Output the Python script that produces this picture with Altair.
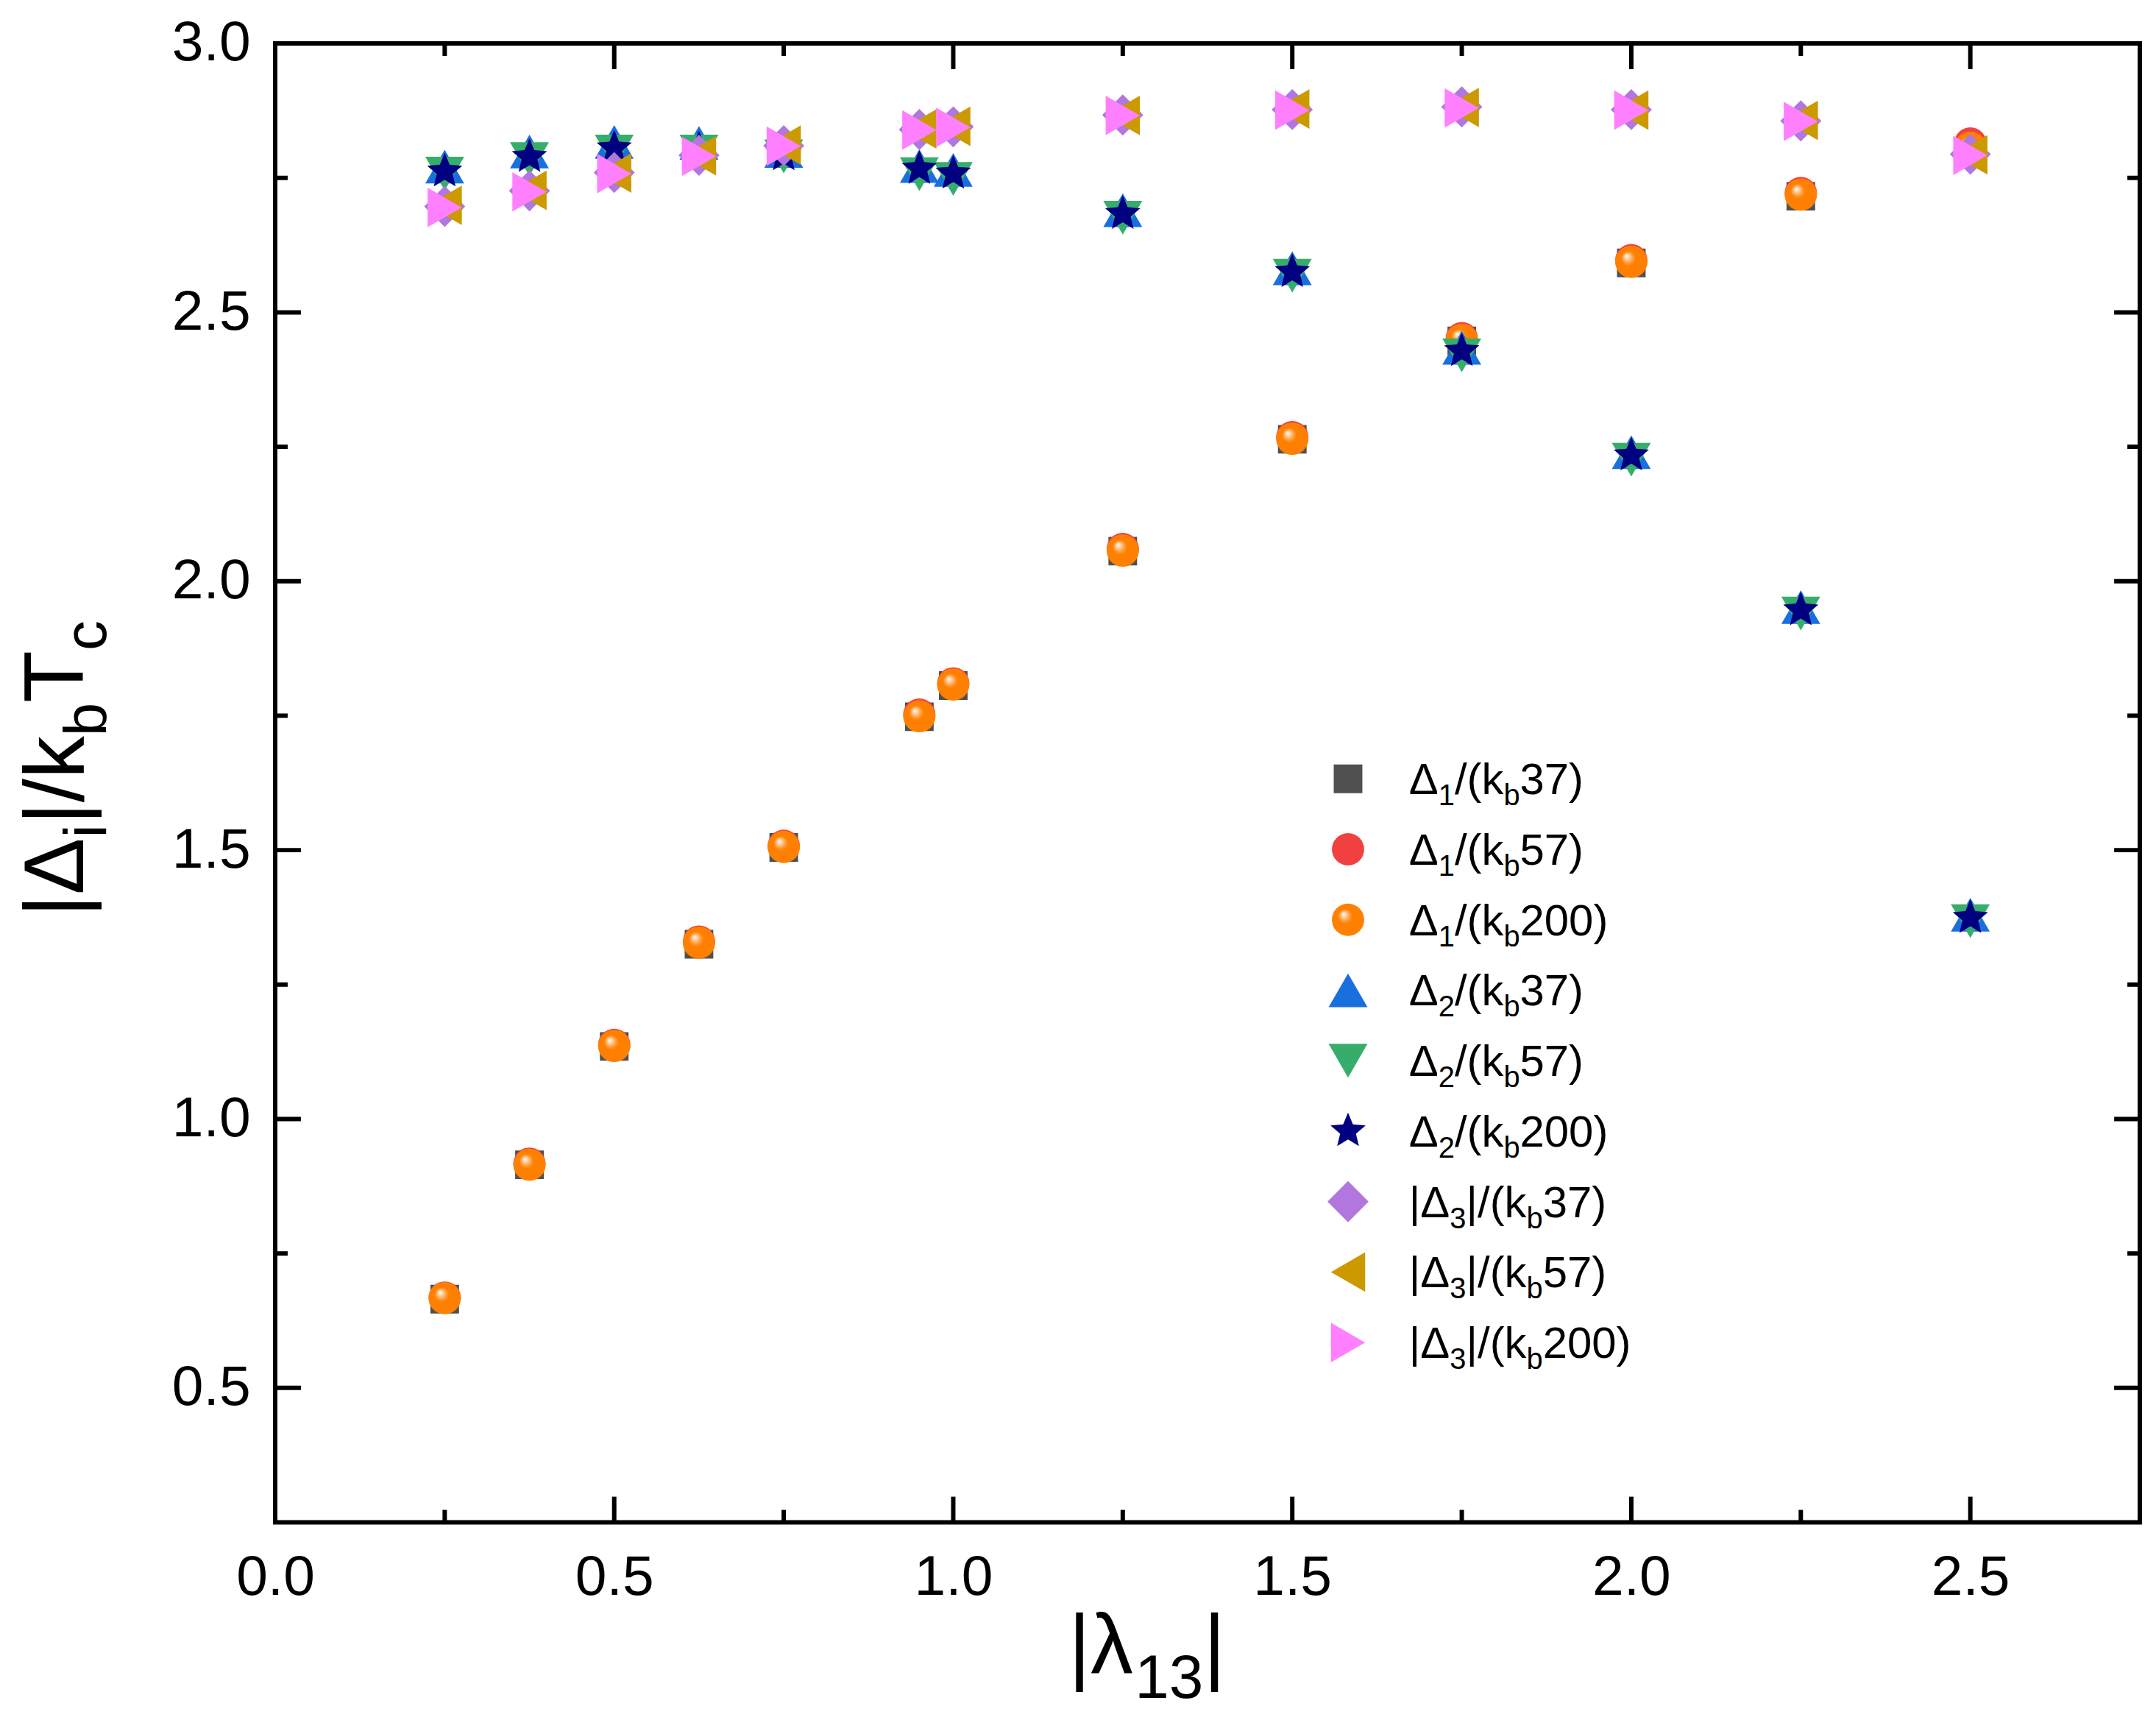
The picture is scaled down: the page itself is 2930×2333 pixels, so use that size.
import altair as alt
import pandas as pd

FONT = "Liberation Sans"

# |lambda_13| values
lam = [0.25, 0.375, 0.5, 0.625, 0.75, 0.95, 1.0, 1.25, 1.5, 1.75, 2.0, 2.25, 2.5]

d1_37 = [0.665, 0.915, 1.135, 1.325, 1.505, 1.748, 1.806, 2.056, 2.264, 2.447, 2.592, 2.716, 2.800]
d1_57 = [0.668, 0.917, 1.138, 1.330, 1.508, 1.752, 1.810, 2.060, 2.268, 2.452, 2.597, 2.722, 2.814]
d1_200 = [0.667, 0.915, 1.136, 1.328, 1.506, 1.749, 1.808, 2.057, 2.265, 2.449, 2.594, 2.719, 2.806]

d2_37 = [2.771, 2.799, 2.817, 2.815, 2.800, 2.772, 2.765, 2.690, 2.582, 2.434, 2.240, 1.952, 1.380]
d2_57 = [2.758, 2.785, 2.799, 2.799, 2.790, 2.757, 2.748, 2.676, 2.568, 2.420, 2.226, 1.940, 1.368]
d2_200 = [2.762, 2.789, 2.805, 2.803, 2.792, 2.767, 2.758, 2.683, 2.575, 2.428, 2.234, 1.946, 1.374]

d3_37 = [2.697, 2.726, 2.760, 2.792, 2.810, 2.840, 2.845, 2.867, 2.877, 2.882, 2.877, 2.856, 2.794]
d3_57 = [2.699, 2.727, 2.759, 2.791, 2.811, 2.841, 2.846, 2.866, 2.878, 2.881, 2.876, 2.857, 2.793]
d3_200 = [2.695, 2.724, 2.758, 2.790, 2.809, 2.839, 2.844, 2.866, 2.876, 2.880, 2.876, 2.855, 2.792]

x_labels = [0.0, 0.5, 1.0, 1.5, 2.0, 2.5]
x_major = [0.5, 1.0, 1.5, 2.0, 2.5]
x_minor = [0.25, 0.75, 1.25, 1.75, 2.25]
y_labels = [0.5, 1.0, 1.5, 2.0, 2.5, 3.0]
y_major = [0.5, 1.0, 1.5, 2.0, 2.5]
y_minor = [0.75, 1.25, 1.75, 2.25, 2.75]

X0, X1 = 0.0, 2.75
Y0, Y1 = 0.25, 3.0
W, H = 2541, 2015

STAR = ("M0,-1L0.2645,-0.364L0.951,-0.309L0.428,0.139L0.588,0.809L0,0.45"
        "L-0.588,0.809L-0.428,0.139L-0.951,-0.309L-0.2645,-0.364Z")

SPHERE = {
    "gradient": "radial", "x1": 0.35, "y1": 0.32, "r1": 0.0,
    "x2": 0.5, "y2": 0.5, "r2": 0.55,
    "stops": [
        {"offset": 0.0, "color": "#FFFFFF"},
        {"offset": 0.12, "color": "#FFD6AD"},
        {"offset": 0.3, "color": "#FF9B38"},
        {"offset": 0.42, "color": "#FF8000"},
        {"offset": 1.0, "color": "#FF8000"},
    ],
}

# label, values, shape, fill, size
series = [
    ("Δ_1/(k_b37)", d1_37, "square", "#505050", 1521),
    ("Δ_1/(k_b57)", d1_57, "circle", "#F14040", 1936),
    ("Δ_1/(k_b200)", d1_200, "circle", SPHERE, 1936),
    ("Δ_2/(k_b37)", d2_37, "triangle-up", "#1A6FDF", 2809),
    ("Δ_2/(k_b57)", d2_57, "triangle-down", "#37AD6B", 2809),
    ("Δ_2/(k_b200)", d2_200, STAR, "#000080", 2540),
    ("|Δ_3|/(k_b37)", d3_37, "diamond", "#B177DE", 3136),
    ("|Δ_3|/(k_b57)", d3_57, "triangle-left", "#CC9900", 2900),
    ("|Δ_3|/(k_b200)", d3_200, "triangle-right", "#FF80FF", 2900),
]

EM = {"|": 0.26, "Δ": 0.668, "λ": 0.52, "/": 0.278, "(": 0.333, ")": 0.333,
      "k": 0.5, "b": 0.556, "i": 0.222, "T": 0.611, "c": 0.5}


def px_x(px):
    return X0 + px * (X1 - X0) / W


def px_y(py):
    return Y1 - py * (Y1 - Y0) / H


def parse(s):
    """split 'Δ_1/(k_b37)' into (text, is_sub) pieces; _{..} for longer subs"""
    out, i = [], 0
    while i < len(s):
        if s[i] == "_":
            if s[i + 1] == "{":
                j = s.index("}", i)
                out.append((s[i + 2:j], True))
                i = j + 1
            else:
                out.append((s[i + 1], True))
                i += 2
        else:
            j = i
            while j < len(s) and s[j] != "_":
                j += 1
            out.append((s[i:j], False))
            i = j
    return out


def seg_rows(s, x, y, fs, fs_sub, sub_off, vertical=False):
    """text pieces laid out from a pixel start point (plot-relative)"""
    rows, pos = [], 0.0
    for txt, sub in parse(s):
        size = fs_sub if sub else fs
        if vertical:
            rows.append(dict(t=txt, x=px_x(x + (sub_off if sub else 0)),
                             y=px_y(y - pos), fs=size, ang=270))
        else:
            rows.append(dict(t=txt, x=px_x(x + pos),
                             y=px_y(y + (sub_off if sub else 0)), fs=size, ang=0))
        pos += sum(EM.get(ch, 0.556) for ch in txt) * size
    return rows


xenc = alt.X("x:Q", scale=alt.Scale(domain=[X0, X1], nice=False, zero=False),
             axis=alt.Axis(values=x_labels, format=".1f", ticks=False, domain=False,
                           grid=False, title=None, labelFlush=False, labelPadding=37))
yenc = alt.Y("y:Q", scale=alt.Scale(domain=[Y0, Y1], nice=False, zero=False),
             axis=alt.Axis(values=y_labels, format=".1f", ticks=False, domain=False,
                           grid=False, title=None, labelFlush=False, labelPadding=34))


def tick_layer(vals, axis, length):
    df = pd.DataFrame({axis: vals})
    base = alt.Chart(df).mark_rule(color="black", strokeWidth=6)
    if axis == "x":
        return [base.encode(x=xenc, y=alt.value(H), y2=alt.value(H - length)),
                base.encode(x=xenc, y=alt.value(0), y2=alt.value(length))]
    return [base.encode(y=yenc, x=alt.value(0), x2=alt.value(length)),
            base.encode(y=yenc, x=alt.value(W), x2=alt.value(W - length))]


def points(df, shape, fill, size):
    return alt.Chart(df).mark_point(shape=shape, filled=True, fill=fill, size=size,
                                    opacity=1, strokeWidth=0).encode(x=xenc, y=yenc)


layers = []
layers += tick_layer(x_major, "x", 35) + tick_layer(x_minor, "x", 17)
layers += tick_layer(y_major, "y", 35) + tick_layer(y_minor, "y", 17)

for label, vals, shape, fill, size in series:
    layers.append(points(pd.DataFrame({"x": lam, "y": vals}), shape, fill, size))

# legend
LEG_SYM_X, LEG_TXT_X, LEG_ROW0, LEG_STEP = 1462, 1545, 1002, 96
text_rows = []
for i, (label, vals, shape, fill, size) in enumerate(series):
    cy = LEG_ROW0 + i * LEG_STEP
    layers.append(points(pd.DataFrame({"x": [px_x(LEG_SYM_X)], "y": [px_y(cy)]}),
                         shape, fill, size))
    text_rows += seg_rows(label, LEG_TXT_X, cy + 21, 60, 40, 15)

# axis titles
text_rows += seg_rows("|λ_{13}|", 1081, 2221, 116, 84, 33)
text_rows += seg_rows("|Δ_i|/k_bT_c", -262, 1190, 116, 82, 31, vertical=True)

texts = alt.Chart(pd.DataFrame(text_rows)).mark_text(
    align="left", baseline="alphabetic", font=FONT, color="black"
).encode(
    x=xenc, y=yenc, text="t:N",
    size=alt.Size("fs:Q", scale=None),
    angle=alt.Angle("ang:Q", scale=None),
)
layers.append(texts)

chart = alt.layer(*layers).properties(
    width=W, height=H,
    autosize=alt.AutoSizeParams(type="none"),
    padding={"left": 367, "top": 48, "right": 14, "bottom": 262},
    background="white",
).configure_view(
    stroke="black", strokeWidth=6
).configure_axis(
    labelFont=FONT, labelFontSize=77, labelColor="black"
)

chart.save("out.html", embed_options={"renderer": "svg", "actions": False})
